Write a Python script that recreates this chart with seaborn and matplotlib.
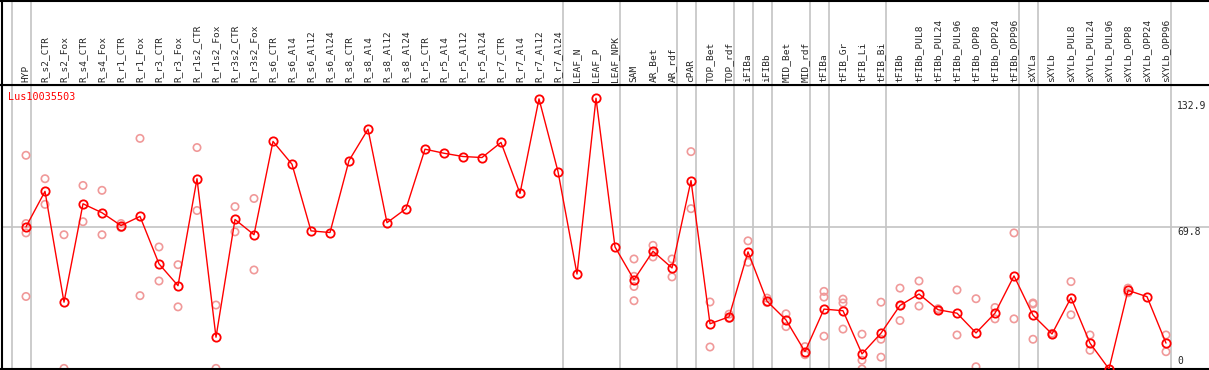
import numpy as np
import matplotlib
matplotlib.use('Agg')
import matplotlib.pyplot as plt
import pandas as pd
import seaborn as sns

gene = 'Lus10035503'

labels = ['HYP', 'R_s2_CTR', 'R_s2_Fox', 'R_s4_CTR', 'R_s4_Fox', 'R_r1_CTR', 'R_r1_Fox',
          'R_r3_CTR', 'R_r3_Fox', 'R_r1s2_CTR', 'R_r1s2_Fox', 'R_r3s2_CTR', 'R_r3s2_Fox',
          'R_s6_CTR', 'R_s6_Al4', 'R_s6_Al12', 'R_s6_Al24', 'R_s8_CTR', 'R_s8_Al4',
          'R_s8_Al12', 'R_s8_Al24', 'R_r5_CTR', 'R_r5_Al4', 'R_r5_Al12', 'R_r5_Al24',
          'R_r7_CTR', 'R_r7_Al4', 'R_r7_Al12', 'R_r7_Al24', 'LEAF_N', 'LEAF_P', 'LEAF_NPK',
          'SAM', 'AR_Bet', 'AR_rdf', 'cPAR', 'TOP_Bet', 'TOP_rdf', 'iFIBa', 'iFIBb',
          'MID_Bet', 'MID_rdf', 'tFIBa', 'tFIB_Gr', 'tFIB_Li', 'tFIB_Bi', 'tFIBb',
          'tFIBb_PUL8', 'tFIBb_PUL24', 'tFIBb_PUL96', 'tFIBb_OPP8', 'tFIBb_OPP24',
          'tFIBb_OPP96', 'sXYLa', 'sXYLb', 'sXYLb_PUL8', 'sXYLb_PUL24', 'sXYLb_PUL96',
          'sXYLb_OPP8', 'sXYLb_OPP24', 'sXYLb_OPP96']

means = [69.8, 87.2, 32.8, 81.1, 76.7, 70.4, 74.9, 51.6, 40.9, 93.4, 15.6, 73.4, 65.9,
         111.7, 100.5, 67.8, 67.0, 102.3, 117.7, 71.8, 78.7, 107.9, 105.9, 104.3, 103.8,
         111.2, 86.2, 132.6, 96.9, 46.6, 132.9, 59.9,
         43.8, 57.8, 49.6, 92.5, 22.2, 25.6, 57.5, 33.3, 24.1, 8.5, 29.4, 28.6, 7.4, 17.6,
         31.2, 36.8, 29.1, 27.4, 17.7, 27.4, 45.7, 26.4, 17.2, 35.0, 12.7, 0.0, 38.6, 35.5, 12.7]

reps = [[104.9, 71.4, 66.8, 35.6], [93.4, 80.8], [65.9, 0.3], [90.1, 72.3], [87.7, 65.9],
        [71.4, 69.4], [113.2, 36.0], [59.9, 43.2], [51.2, 30.5], [108.7, 77.8], [31.4, 0.3],
        [79.7, 67.3], [83.7, 48.6],
        [], [], [], [], [], [], [], [], [], [], [], [], [], [], [], [], [], [], [],
        [54.0, 45.5, 40.5, 33.5], [60.7, 57.5, 55.0], [54.0, 45.2], [106.7, 78.7],
        [32.9, 10.8], [26.9, 24.8], [62.9, 52.4], [34.8, 32.6], [27.1, 20.8], [11.0, 7.0],
        [38.1, 35.3, 16.1], [34.3, 32.4, 19.6], [17.1, 4.3, 0.0], [32.8, 14.6, 5.8],
        [39.7, 23.8, 31.0], [43.2, 30.9], [29.6, 28.8], [38.8, 16.7], [34.5, 1.1],
        [30.2, 24.6], [66.8, 24.6], [32.4, 31.9, 14.6], [17.5, 16.9], [42.9, 26.6],
        [16.7, 9.2], [], [39.7, 37.4], [], [16.7, 8.5]]

# group boundaries: a separator is drawn after these columns
group_ends = [-1, 0, 28, 31, 34, 35, 37, 38, 39, 41, 42, 45, 52, 53, 60]

ticks = [0, 69.8, 132.9]

df = pd.DataFrame({'x': np.arange(len(labels)), 'value': means})
rx, ry = [], []
for i, r in enumerate(reps):
    rx += [i] * len(r)
    ry += r
rep_df = pd.DataFrame({'x': rx, 'value': ry})

sns.set_style('white')
plt.rcParams['font.family'] = ['DejaVu Sans Mono']

W, H = 1209, 370
fig = plt.figure(figsize=(W / 100, H / 100), dpi=100)

x0 = 1.5
step = 19.0
first = 26.0
xlim = (-(first - x0) / step, -(first - x0) / step + (W - x0) / step)

ax = fig.add_axes([x0 / W, 1 / H, 1 - x0 / W, 284 / H])
hx = fig.add_axes([x0 / W, 285 / H, 1 - x0 / W, 84 / H])

grid_c = '#c4c4c4'
for a in (ax, hx):
    a.set_xlim(*xlim)
    for g in group_ends:
        a.axvline(g + 0.25, color=grid_c, lw=1.2, zorder=0)
    for s in ['left', 'top', 'bottom']:
        a.spines[s].set_color('black')
        a.spines[s].set_linewidth(1.5)
    a.spines['right'].set_visible(False)
    a.set_xticks([])
    a.set_yticks([])
    a.set_xlabel('')
    a.set_ylabel('')

ax.set_ylim(0, 139.4)
ax.axhline(ticks[1], color=grid_c, lw=1.2, zorder=0)

sns.scatterplot(data=rep_df, x='x', y='value', ax=ax, marker='o', s=28,
                facecolor='none', edgecolor='#f09999', linewidth=1.2, zorder=2)
sns.lineplot(data=df, x='x', y='value', ax=ax, color='red', lw=1,
             marker='o', markersize=6, markerfacecolor='none',
             markeredgecolor='red', markeredgewidth=1.3, zorder=3)
ax.set_xlabel('')
ax.set_ylabel('')
ax.set_xticks([])
ax.set_yticks([])

tx = (1177 - first) / step
ax.text(tx, ticks[2] - 1.5, '%g' % ticks[2], fontsize=7, va='top', ha='left')
ax.text(tx, ticks[1], '%g' % ticks[1], fontsize=7, va='top', ha='left')
ax.text(tx, ticks[0] + 1.5, '%g' % ticks[0], fontsize=7, va='bottom', ha='left')

ax.text((8 - first) / step, 133.5, gene, color='red', fontsize=7.3, ha='left', va='center')

hx.set_ylim(0, 1)
for i, lab in enumerate(labels):
    hx.text(i, 0.04, lab, rotation=90, fontsize=6.8, ha='center', va='bottom')

fig.savefig('out.png', dpi=100)
